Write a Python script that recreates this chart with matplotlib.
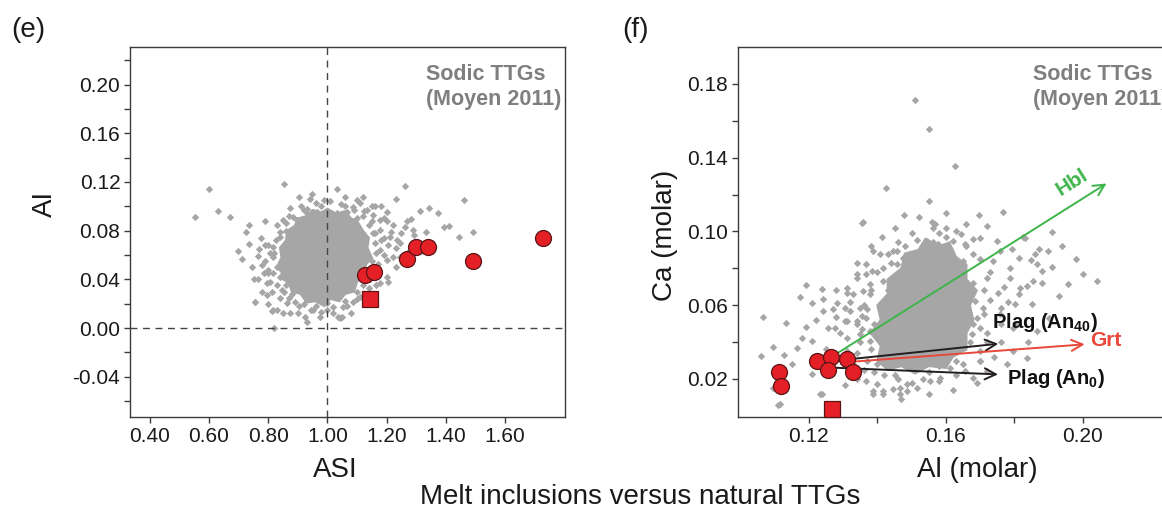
import numpy as np
import matplotlib
matplotlib.use('Agg')
import matplotlib.pyplot as plt
from matplotlib.patches import Polygon
from matplotlib.ticker import MultipleLocator, FormatStrFormatter

plt.rcParams['font.family'] = ['Liberation Sans', 'DejaVu Sans']
plt.rcParams['axes.unicode_minus'] = False
plt.rcParams['mathtext.fontset'] = 'custom'
plt.rcParams['mathtext.rm'] = 'Liberation Sans'
plt.rcParams['mathtext.bf'] = 'Liberation Sans:bold'

# ---- panel (e): ASI vs AI ----
# dense centre of the Moyen (2011) sodic TTG cloud (outline)
e_core_asi = [0.83, 0.845, 0.84, 0.86, 0.865, 0.89, 0.90, 0.93, 0.95, 0.98, 1.00, 1.03, 1.06, 1.08, 1.10, 1.12, 1.14,
              1.135, 1.15, 1.13, 1.125, 1.10, 1.09, 1.06, 1.04, 1.01, 0.99, 0.96, 0.93, 0.91, 0.88, 0.87, 0.85, 0.845]
e_core_ai = [0.050, 0.058, 0.066, 0.072, 0.080, 0.084, 0.090, 0.092, 0.097, 0.095, 0.098, 0.094, 0.096, 0.090, 0.088,
             0.080, 0.074, 0.066, 0.058, 0.052, 0.044, 0.038, 0.030, 0.028, 0.022, 0.024, 0.018, 0.022, 0.021, 0.028,
             0.030, 0.037, 0.040, 0.046]
# individual TTG analyses around the centre
e_ttg_asi = [0.601, 0.853, 0.949, 1.031, 1.261, 0.553, 0.630, 0.671, 0.724, 0.736, 0.776, 0.711, 0.765, 0.765,
             0.755, 0.795, 0.817, 1.048, 1.231, 1.461, 1.312, 1.342, 1.374, 1.281, 1.393, 1.411, 1.333, 1.490,
             1.261, 1.293, 1.443, 0.754, 0.819, 1.043, 0.756, 0.813, 1.206,
             0.812, 0.795, 0.846, 0.840, 0.862, 0.829, 0.890, 0.902, 0.874, 0.924, 0.952, 0.975, 0.997, 1.020,
             1.053, 1.036, 1.087, 1.110,
             0.829, 0.851, 0.840, 0.817, 0.806, 0.800, 0.829, 0.817, 0.840,
             0.896, 0.930, 0.964, 0.997, 1.031, 1.065, 1.087, 1.110, 1.132, 1.154, 1.177,
             1.177, 1.211, 1.245, 1.278, 1.200, 1.233, 1.289, 1.177, 1.222, 1.200, 1.177, 1.245, 1.312,
             0.850, 0.860, 0.880, 0.920, 0.960, 1.000, 1.060, 1.100, 1.140, 1.150, 1.160, 1.140, 1.100, 1.060,
             0.980, 0.930, 0.880, 0.860, 0.845, 1.190, 1.220, 1.160, 1.120, 0.990, 0.910, 0.870, 1.170, 1.140,
             1.125, 1.150, 1.200, 1.235, 1.260, 0.700, 0.780, 0.790, 0.800, 1.090, 1.130, 1.160, 1.190, 1.230,
             0.820, 0.815, 0.830, 0.855, 0.870, 0.905, 0.945, 0.980, 1.020, 1.065, 1.100, 1.120, 1.145, 1.165,
             1.155, 1.150, 1.120, 1.090, 1.045, 1.010, 0.960, 0.920, 0.885, 0.860, 0.840, 0.825, 0.800, 0.790,
             0.805, 0.785, 1.180, 1.190, 1.205, 1.170, 1.215, 1.250, 1.270, 1.100, 1.060, 0.940, 0.875, 0.905,
             1.180, 1.200, 1.165, 0.780, 0.770, 0.745, 0.735, 0.790, 0.800, 0.850, 0.930, 1.080, 1.130]
e_ttg_ai = [0.114, 0.118, 0.110, 0.114, 0.117, 0.0914, 0.096, 0.0914, 0.0786, 0.0687, 0.0737, 0.0564, 0.0591, 0.040,
            0.0216, 0.0367, 0.0148, 0.0093, 0.106, 0.105, 0.0963, 0.0983, 0.0942, 0.0895, 0.0832, 0.0838, 0.079, 0.0786,
            0.0832, 0.0764, 0.075, 0.040, 0.0003, 0.008, 0.0211, 0.014, 0.038,
            0.0298, 0.0271, 0.0312, 0.0244, 0.0203, 0.0148, 0.0216, 0.0121, 0.0121, 0.0093, 0.0148, 0.0093, 0.0203, 0.0175,
            0.0175, 0.0093, 0.0216, 0.0257,
            0.0846, 0.0887, 0.075, 0.0668, 0.0614, 0.0476, 0.0503, 0.0586, 0.0421,
            0.0887, 0.0942, 0.0955, 0.0955, 0.0942, 0.0955, 0.0996, 0.1024, 0.0969, 0.0928, 0.0887,
            0.0805, 0.075, 0.0696, 0.0641, 0.0559, 0.0503, 0.0805, 0.0641, 0.0586, 0.0421, 0.0367, 0.0586, 0.0696,
            0.065, 0.035, 0.028, 0.020, 0.018, 0.015, 0.022, 0.030, 0.042, 0.055, 0.070, 0.085, 0.090, 0.100,
            0.100, 0.098, 0.080, 0.080, 0.050, 0.090, 0.085, 0.100, 0.108, 0.105, 0.100, 0.092, 0.047, 0.033,
            0.096, 0.100, 0.088, 0.072, 0.060, 0.063, 0.052, 0.068, 0.045, 0.060, 0.040, 0.078, 0.074, 0.066,
            0.062, 0.045, 0.035, 0.030, 0.025, 0.018, 0.015, 0.013, 0.012, 0.018, 0.024, 0.035, 0.040, 0.062,
            0.078, 0.088, 0.092, 0.097, 0.102, 0.104, 0.103, 0.097, 0.091, 0.086, 0.079, 0.072, 0.068, 0.055,
            0.038, 0.045, 0.072, 0.060, 0.068, 0.053, 0.079, 0.078, 0.088, 0.105, 0.108, 0.106, 0.099, 0.108,
            0.100, 0.095, 0.035, 0.030, 0.065, 0.050, 0.085, 0.088, 0.020, 0.012, 0.005, 0.012, 0.025]
# melt inclusions
e_mi_asi = [1.128, 1.158, 1.270, 1.300, 1.340, 1.490, 1.728]
e_mi_ai = [0.0435, 0.046, 0.0567, 0.0665, 0.0665, 0.055, 0.074]
e_sq_asi = [1.143]
e_sq_ai = [0.0238]

# ---- panel (f): Al vs Ca (molar) ----
f_core_al = [0.140, 0.141, 0.138, 0.141, 0.140, 0.143, 0.143, 0.147, 0.148, 0.152, 0.154, 0.158, 0.161, 0.163,
             0.166, 0.166, 0.169, 0.167, 0.168, 0.166, 0.166, 0.162, 0.160, 0.155, 0.151, 0.147, 0.143]
f_core_ca = [0.030, 0.038, 0.045, 0.052, 0.060, 0.066, 0.074, 0.080, 0.088, 0.090, 0.096, 0.092, 0.094, 0.086,
             0.082, 0.074, 0.068, 0.060, 0.052, 0.045, 0.036, 0.032, 0.026, 0.027, 0.023, 0.027, 0.025]
f_ttg_al = [0.1510, 0.1552, 0.1626, 0.1425, 0.1550, 0.1359, 0.1477, 0.1412, 0.1558, 0.1568, 0.1563, 0.1600, 0.1600,
            0.1644, 0.1515, 0.1544, 0.1563, 0.1578, 0.1680, 0.1700, 0.1696,
            0.1354, 0.1767, 0.1720, 0.1910, 0.1824, 0.1871, 0.1898, 0.1793, 0.1447, 0.1612,
            0.1831, 0.1848, 0.1812, 0.1880, 0.1909, 0.2001, 0.2040, 0.1955, 0.1880, 0.1787, 0.1758, 0.1738, 0.1787,
            0.1836, 0.1812, 0.1851, 0.1801, 0.1753, 0.1761, 0.1709, 0.1685, 0.1690, 0.1675, 0.1700, 0.1675, 0.1655,
            0.1679, 0.1650,
            0.1656, 0.1680, 0.1612, 0.1582, 0.1553, 0.1534, 0.1515, 0.1485, 0.1466, 0.1417, 0.1388, 0.1398, 0.1700,
            0.1719, 0.1777, 0.1797, 0.1836, 0.1865, 0.1797, 0.1758, 0.1816, 0.1855, 0.1865,
            0.1456, 0.1388, 0.1368, 0.1339, 0.1310, 0.1329, 0.1359, 0.1378, 0.1417, 0.1407, 0.1349, 0.1320, 0.1305,
            0.1339, 0.1368, 0.1310, 0.1349, 0.1378, 0.1378,
            0.1065, 0.1059, 0.1094, 0.1133, 0.1127, 0.1164, 0.1174, 0.1191, 0.1191, 0.1208, 0.1237, 0.1242, 0.1242,
            0.1208, 0.1255, 0.1281, 0.1279, 0.1276, 0.1310, 0.1305, 0.1310, 0.1115, 0.1096, 0.1208, 0.1232, 0.1305,
            0.1339, 0.1368, 0.1383, 0.1354, 0.1354, 0.1378, 0.1407, 0.1475, 0.1495, 0.1417, 0.1456,
            0.1368, 0.1388, 0.1417, 0.1446, 0.1466, 0.1485, 0.1109, 0.1239,
            0.1450, 0.1400, 0.1580, 0.1630, 0.1670, 0.1680, 0.1680, 0.1630, 0.1580, 0.1520, 0.1470, 0.1430, 0.1390,
            0.1380, 0.1500, 0.1550, 0.1600, 0.1700, 0.1720, 0.1710, 0.1730, 0.1620, 0.1480, 0.1440, 0.1420, 0.1360,
            0.1340, 0.1360, 0.1450, 0.1430, 0.1760, 0.1780,
            0.137, 0.135, 0.134, 0.137, 0.138, 0.140, 0.143, 0.146, 0.150, 0.158, 0.163, 0.166, 0.170, 0.172,
            0.173, 0.171, 0.172, 0.170, 0.165, 0.163, 0.158, 0.150, 0.146, 0.142, 0.139, 0.133, 0.131, 0.129,
            0.127, 0.132, 0.128, 0.134, 0.138, 0.145, 0.152, 0.160, 0.166, 0.175, 0.177, 0.176, 0.174, 0.169,
            0.162, 0.155, 0.147, 0.134, 0.125, 0.122, 0.118, 0.115, 0.181, 0.184, 0.190, 0.193, 0.186, 0.194,
            0.198]
f_ttg_ca = [0.1713, 0.1554, 0.1355, 0.1234, 0.1165, 0.1051, 0.1088, 0.0972, 0.1053, 0.1039, 0.1017, 0.1020, 0.0972,
            0.0988, 0.0954, 0.0948, 0.0945, 0.0934, 0.0958, 0.0966, 0.1089,
            0.1048, 0.1107, 0.1030, 0.0997, 0.0972, 0.0903, 0.0894, 0.0903, 0.0894, 0.0903,
            0.0962, 0.0844, 0.0858, 0.0786, 0.0807, 0.0768, 0.0731, 0.0714, 0.0722, 0.0804, 0.0894, 0.0840, 0.0749,
            0.0704, 0.0659, 0.0605, 0.0605, 0.0668, 0.0587, 0.0587, 0.0623, 0.0532, 0.0677, 0.0478, 0.0442, 0.0930,
            0.0876, 0.0840,
            0.0243, 0.0207, 0.0261, 0.0207, 0.0189, 0.0198, 0.0153, 0.0135, 0.0117, 0.0135, 0.0117, 0.0171, 0.0298,
            0.0243, 0.0280, 0.0352, 0.0316, 0.0460, 0.0478, 0.0551, 0.0695, 0.0731, 0.0822,
            0.0894, 0.0894, 0.0822, 0.0768, 0.0695, 0.0659, 0.0677, 0.0713, 0.0731, 0.0587, 0.0587, 0.0569, 0.0515,
            0.0515, 0.0532, 0.0424, 0.0442, 0.0406, 0.0460,
            0.0536, 0.0325, 0.0374, 0.0505, 0.0330, 0.0370, 0.0645, 0.0708, 0.0482, 0.0614, 0.0686, 0.0632, 0.0569,
            0.0406, 0.0475, 0.0614, 0.0536, 0.0475, 0.0668, 0.0587, 0.0515, 0.0063, 0.0153, 0.0225, 0.0117, 0.0168,
            0.0749, 0.0768, 0.0786, 0.0542, 0.0470, 0.0659, 0.0876, 0.0858, 0.0876, 0.0804, 0.0822,
            0.0189, 0.0135, 0.0117, 0.0144, 0.0153, 0.0171, 0.0059, 0.0117,
            0.0300, 0.0280, 0.0270, 0.0300, 0.0400, 0.0500, 0.0720, 0.0850, 0.0920, 0.0880, 0.0780, 0.0680, 0.0500,
            0.0360, 0.0260, 0.0240, 0.0330, 0.0350, 0.0450, 0.0680, 0.0780, 0.0950, 0.0920, 0.0830, 0.0620, 0.0600,
            0.0340, 0.0250, 0.0220, 0.0450, 0.0400, 0.0620,
            0.030, 0.040, 0.050, 0.058, 0.068, 0.078, 0.088, 0.094, 0.099, 0.099, 0.100, 0.092, 0.085, 0.075,
            0.063, 0.055, 0.040, 0.030, 0.028, 0.022, 0.019, 0.018, 0.020, 0.022, 0.024, 0.028, 0.035, 0.045,
            0.058, 0.062, 0.068, 0.083, 0.092, 0.102, 0.108, 0.110, 0.104, 0.095, 0.070, 0.050, 0.032, 0.018,
            0.014, 0.012, 0.009, 0.020, 0.036, 0.052, 0.042, 0.028, 0.050, 0.040, 0.053, 0.065, 0.088, 0.092,
            0.085]
f_mi_al = [0.1112, 0.1119, 0.1223, 0.1265, 0.1255, 0.1310, 0.1330]
f_mi_ca = [0.0238, 0.0162, 0.0297, 0.0319, 0.0249, 0.0308, 0.0238]
f_sq_al = [0.1268]
f_sq_ca = [0.0040]

# mineral vectors: start, end, colour
vec_start = {'Hbl': (0.1286, 0.0343), 'Plag40': (0.1281, 0.0300),
             'Grt': (0.1300, 0.0290), 'Plag0': (0.1276, 0.0261)}
vec_end = {'Hbl': (0.2069, 0.1260), 'Plag40': (0.1753, 0.0391),
           'Grt': (0.2005, 0.0388), 'Plag0': (0.1752, 0.0225)}
vec_color = {'Hbl': '#3db54a', 'Plag40': '#231f20', 'Grt': '#e8473a', 'Plag0': '#231f20'}

GREY = '#a6a6a6'
RED = '#e41f26'
EDGE = '#5a1416'

fig = plt.figure(figsize=(11.62, 5.18), dpi=100)
ax1 = fig.add_axes([0.1119, 0.195, 0.3744, 0.7143])
ax2 = fig.add_axes([0.6348, 0.195, 0.3735, 0.7143])


def style_axes(ax):
    for sp in ax.spines.values():
        sp.set_color('#3a3a3a')
        sp.set_linewidth(1.0)
    ax.tick_params(which='both', direction='out', color='#3a3a3a', width=1.0,
                   labelsize=15, labelcolor='#1a1a1a', pad=3, length=4)


# panel (e)
ax1.add_patch(Polygon(np.column_stack([e_core_asi, e_core_ai]), closed=True,
                      facecolor=GREY, edgecolor=GREY, lw=1.5, zorder=2))
ax1.scatter(e_ttg_asi, e_ttg_ai, marker='D', s=14, color=GREY, lw=0, zorder=2)
ax1.axvline(1.0, color='#444444', lw=1, dashes=(5, 4), zorder=3)
ax1.axhline(0.0, color='#444444', lw=1, dashes=(5, 4), zorder=3)
ax1.plot(e_mi_asi, e_mi_ai, 'o', ms=11.5, mfc=RED, mec=EDGE, mew=0.9, zorder=5)
ax1.plot(e_sq_asi, e_sq_ai, 's', ms=11, mfc=RED, mec=EDGE, mew=0.9, zorder=5)
ax1.set_xlim(0.334, 1.802)
ax1.set_ylim(-0.0731, 0.2309)
ax1.set_xticks([0.4, 0.6, 0.8, 1.0, 1.2, 1.4, 1.6])
ax1.set_yticks([-0.04, 0.0, 0.04, 0.08, 0.12, 0.16, 0.20])
ax1.yaxis.set_minor_locator(MultipleLocator(0.02))
ax1.xaxis.set_major_formatter(FormatStrFormatter('%.2f'))
ax1.yaxis.set_major_formatter(FormatStrFormatter('%.2f'))
style_axes(ax1)
ax1.set_xlabel('ASI', fontsize=20, color='#1a1a1a')
ax1.set_ylabel('AI', fontsize=20, color='#1a1a1a')
ax1.xaxis.set_label_coords(0.471, -0.108)
ax1.yaxis.set_label_coords(-0.165, 0.576)
ax1.text(0.681, 0.955, 'Sodic TTGs\n(Moyen 2011)', transform=ax1.transAxes, ha='left', va='top',
         fontsize=15.5, fontweight='bold', color='#7f7f7f', linespacing=1.25)

# panel (f)
ax2.add_patch(Polygon(np.column_stack([f_core_al, f_core_ca]), closed=True,
                      facecolor=GREY, edgecolor=GREY, lw=1.5, zorder=2))
ax2.scatter(f_ttg_al, f_ttg_ca, marker='D', s=14, color=GREY, lw=0, zorder=2)
for key in ['Hbl', 'Plag40', 'Grt', 'Plag0']:
    ax2.annotate('', xy=vec_end[key], xytext=vec_start[key],
                 arrowprops=dict(arrowstyle='->', color=vec_color[key], lw=1.4,
                                 mutation_scale=20, shrinkA=0, shrinkB=0), zorder=4)
ax2.plot(f_mi_al, f_mi_ca, 'o', ms=11.5, mfc=RED, mec=EDGE, mew=0.9, zorder=5)
ax2.plot(f_sq_al, f_sq_ca, 's', ms=11, mfc=RED, mec=EDGE, mew=0.9, zorder=5, clip_on=False)
ax2.text(0.1968, 0.1268, 'Hbl', color=vec_color['Hbl'], fontsize=15, fontweight='bold',
         rotation=32, ha='center', va='center', rotation_mode='anchor')
ax2.text(0.1734, 0.0504, r'Plag (An$_{\mathbf{40}}$)', color='#111111', fontsize=14.5,
         fontweight='bold', ha='left', va='center')
ax2.text(0.1778, 0.0205, r'Plag (An$_{\mathbf{0}}$)', color='#111111', fontsize=14.5,
         fontweight='bold', ha='left', va='center')
ax2.text(0.2020, 0.0406, 'Grt', color=vec_color['Grt'], fontsize=15, fontweight='bold',
         ha='left', va='center')
ax2.set_xlim(0.0992, 0.2259)
ax2.set_ylim(-0.0006, 0.2)
ax2.set_xticks([0.12, 0.16, 0.20])
ax2.set_xticks([0.14, 0.18], minor=True)
ax2.set_yticks([0.02, 0.06, 0.10, 0.14, 0.18])
ax2.set_yticks([0.04, 0.08, 0.12, 0.16], minor=True)
ax2.xaxis.set_major_formatter(FormatStrFormatter('%.2f'))
ax2.yaxis.set_major_formatter(FormatStrFormatter('%.2f'))
style_axes(ax2)
ax2.set_xlabel('Al (molar)', fontsize=20, color='#1a1a1a')
ax2.set_ylabel('Ca (molar)', fontsize=20, color='#1a1a1a')
ax2.xaxis.set_label_coords(0.552, -0.108)
ax2.yaxis.set_label_coords(-0.137, 0.49)
ax2.text(0.681, 0.955, 'Sodic TTGs\n(Moyen 2011)', transform=ax2.transAxes, ha='left', va='top',
         fontsize=15.5, fontweight='bold', color='#7f7f7f', linespacing=1.25)

# panel letters and shared caption
fig.text(0.0095, 0.942, '(e)', fontsize=20, color='#1a1a1a', ha='left', va='center')
fig.text(0.5357, 0.942, '(f)', fontsize=20, color='#1a1a1a', ha='left', va='center')
fig.text(0.5506, 0.040, 'Melt inclusions versus natural TTGs', fontsize=20, color='#1a1a1a',
         ha='center', va='center')

fig.savefig('out.png', dpi=100)
